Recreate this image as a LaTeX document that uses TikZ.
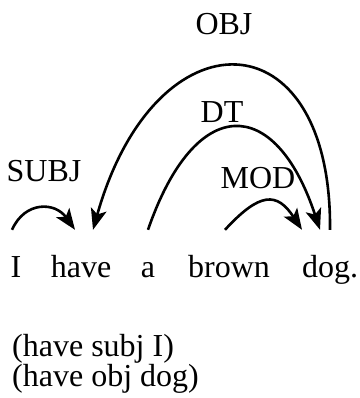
\documentclass[tikz,border=0pt]{standalone}
\usepackage{fontspec}
\setmainfont{Liberation Serif}
\usetikzlibrary{arrows.meta}

\begin{document}
\begin{tikzpicture}[x=1pt, y=-1pt]

\tikzset{myword/.style={anchor=base, inner sep=0pt, text height=22pt, text depth=0pt, font=\fontsize{32}{38}\selectfont}}
\tikzset{mylabel/.style={anchor=base, inner sep=0pt, font=\fontsize{32}{38}\selectfont}}
\tikzset{myarc/.style={-{Stealth[length=21pt, width=16pt, inset=5pt]}, line width=2.6pt}}

\useasboundingbox (0,0) rectangle (359,398);

% the sentence
\node[myword] (wI) at (16,277) {I};
\node[myword] (whave) at (81,277) {have};
\node[myword] (wa) at (148,277) {a};
\node[myword] (wbrown) at (229,277) {brown};
\node[myword] (wdog) at (330,277) {dog.};

% relation names
\node[mylabel] (lobj) at (224,35) {OBJ};
\node[mylabel] (ldt) at (222,123) {DT};
\node[mylabel] (lmod) at (258,188) {MOD};
\node[mylabel] (lsubj) at (44,181) {SUBJ};

% arcs from dependent to head
\draw[myarc] ([xshift=-4pt, yshift=25pt]wI.north) .. controls +(13,-29) and +(-20,-28) .. ([xshift=-6pt, yshift=25pt]whave.north);
\draw[myarc] ([yshift=25pt]wdog.north) .. controls +(2,-216) and +(62,-220) .. ([xshift=12pt, yshift=25pt]whave.north);
\draw[myarc] ([yshift=25pt]wa.north) .. controls +(47,-136) and +(-45,-136) .. ([xshift=-10pt, yshift=25pt]wdog.north);
\draw[myarc] ([xshift=-4pt, yshift=25pt]wbrown.north) .. controls +(35,-38) and +(-25,-38) .. ([xshift=-28pt, yshift=25pt]wdog.north);

% relations as lists
\node[mylabel, anchor=base west] (rsubj) at (12,356) {(have subj I)};
\node[mylabel, anchor=base west] (robj) at (12,386) {(have obj dog)};

\end{tikzpicture}
\end{document}
